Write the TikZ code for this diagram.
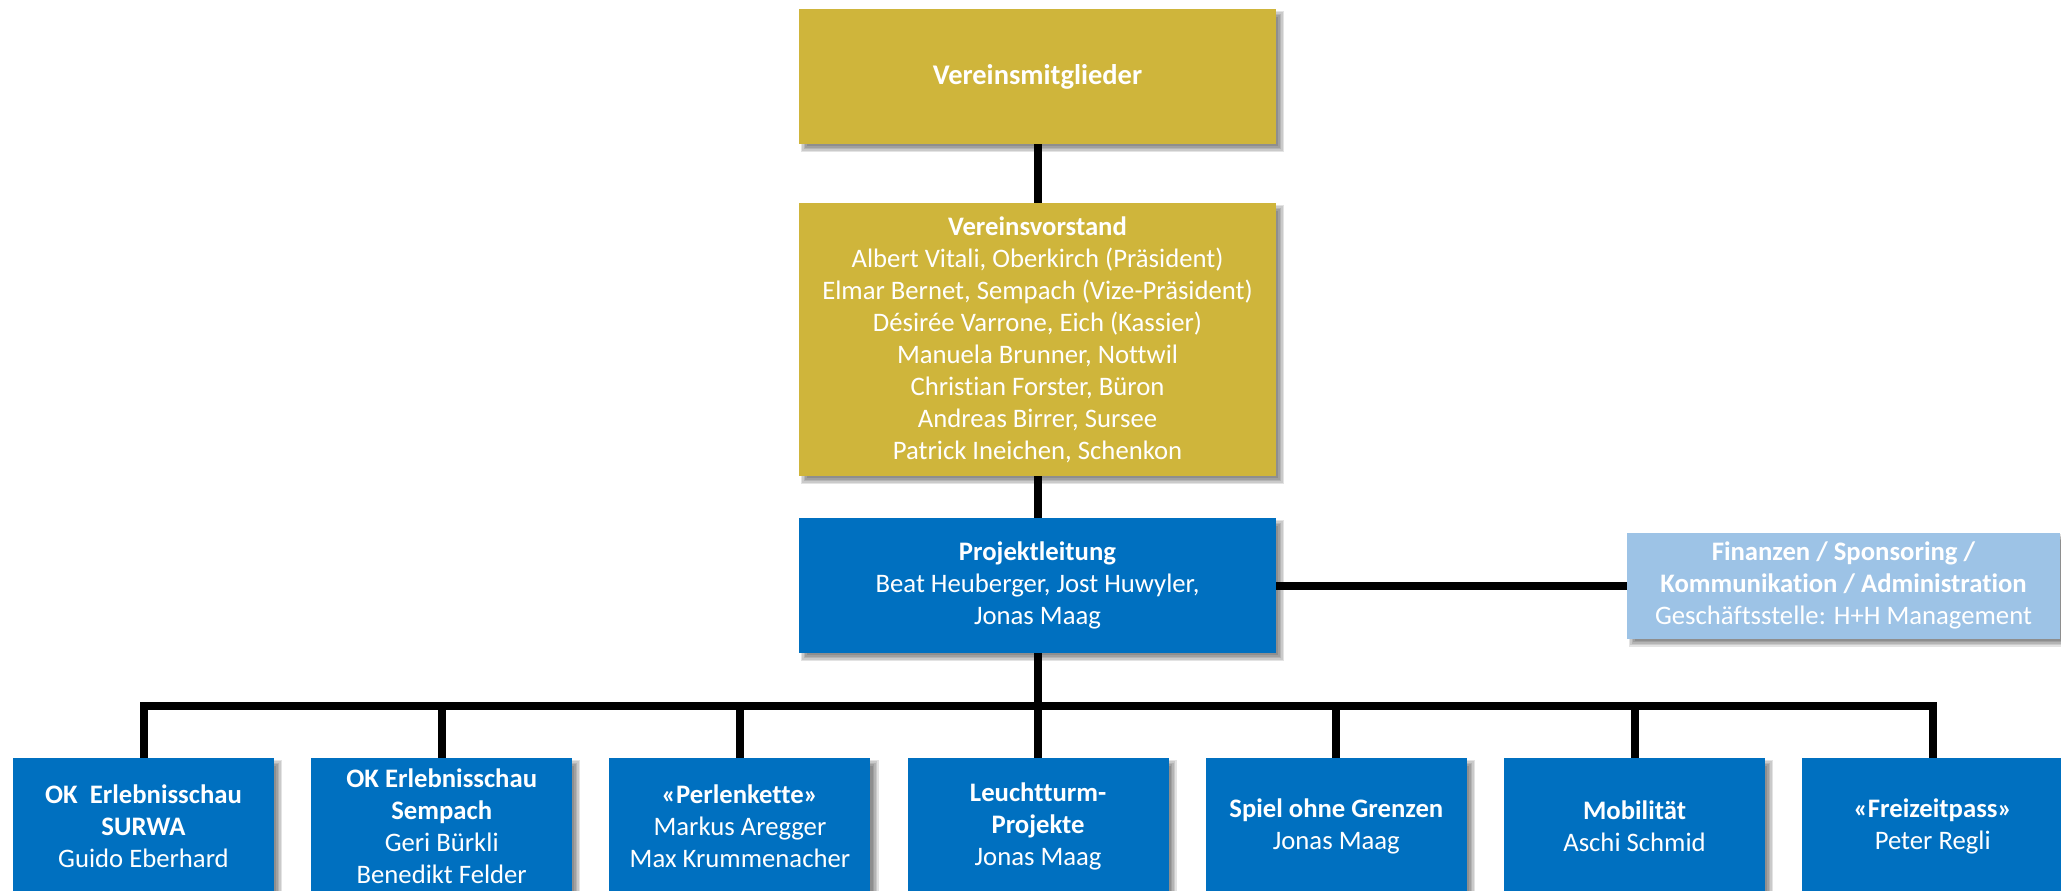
\documentclass[tikz,border=0pt]{standalone}
\usepackage{fontspec}
\setmainfont{Carlito}[Ligatures={NoCommon}]
\usetikzlibrary{calc}
\definecolor{gold}{RGB}{207,181,59}
\definecolor{pblue}{RGB}{0,112,192}
\definecolor{lblue}{RGB}{157,195,230}
\pgfdeclarelayer{bg}
\pgfsetlayers{bg,main}
\newcommand{\boxshadow}[1]{%
  \foreach \d in {-3,-1.5,0,1.5,3} {%
    \fill[black, opacity=0.11] ($(#1.north west)+(5+\d,5+\d)$) rectangle ($(#1.south east)+(5-\d,5-\d)$);
  }}
\begin{document}
\begin{tikzpicture}[x=1pt,y=-1pt,
  box/.style={rectangle, inner sep=0pt, text=white, align=center, font=\fontsize{26.7}{32}\selectfont},
  goldbox/.style={box, fill=gold, minimum width=477pt},
  bluebox/.style={box, fill=pblue, minimum width=261pt, minimum height=136pt},
  conn/.style={line width=8pt, line join=miter, draw=black}]
\useasboundingbox (0,0) rectangle (2061,891);

\node[goldbox, minimum height=135pt, font=\fontsize{28.5}{34}\selectfont\bfseries] (vm) at (1037.5,76.5) {Vereinsmitglieder};
\node[goldbox, minimum height=273pt] (vv) at (1037.5,339.5) {\textbf{Vereinsvorstand}\\Albert Vitali, Oberkirch (Präsident)\\Elmar Bernet, Sempach (Vize-Präsident)\\Désirée Varrone, Eich (Kassier)\\Manuela Brunner, Nottwil\\Christian Forster, Büron\\Andreas Birrer, Sursee\\Patrick Ineichen, Schenkon};
\node[box, fill=pblue, minimum width=477pt, minimum height=135pt] (pl) at (1037.5,585.5) {\textbf{Projektleitung}\\Beat Heuberger, Jost Huwyler,\\Jonas Maag};
\node[box, fill=lblue, minimum width=433pt, minimum height=106pt] (fin) at (1843.5,585.5) {\textbf{Finanzen / Sponsoring /}\\\textbf{Kommunikation / Administration}\\Geschäftsstelle: H+H Management};

\node[bluebox] (c1) at (143.5,826) {\textbf{OK\ \ Erlebnisschau}\\\textbf{SURWA}\\Guido Eberhard};
\node[bluebox] (c2) at (441.7,826) {\textbf{OK Erlebnisschau}\\\textbf{Sempach}\\Geri Bürkli\\Benedikt Felder};
\node[bluebox] (c3) at (739.9,826) {\textbf{«Perlenkette»}\\Markus Aregger\\Max Krummenacher};
\node[bluebox] (c4) at (1038.1,826) {\textbf{Leuchtturm-}\\\textbf{Projekte}\\Jonas Maag};
\node[bluebox] (c5) at (1336.3,826) {\textbf{Spiel ohne Grenzen}\\Jonas Maag};
\node[bluebox] (c6) at (1634.5,826) {\textbf{Mobilität}\\Aschi Schmid};
\node[bluebox] (c7) at (1932.7,826) {\textbf{«Freizeitpass»}\\Peter Regli};

\coordinate (bus) at (1037.5,706);

\begin{pgfonlayer}{bg}
  \boxshadow{vm}
  \boxshadow{vv}
  \boxshadow{pl}
  \boxshadow{fin}
  \foreach \n in {c1,c2,c3,c4,c5,c6,c7} {\boxshadow{\n}}
\end{pgfonlayer}

\draw[conn] (vm.south) -- (vv.north);
\draw[conn] (vv.south) -- (pl.north);
\draw[conn] (pl.east) -- (fin.west);
\draw[conn] (pl.south) -- (bus);
\draw[conn] (c1.north) |- (bus) -| (c7.north);
\foreach \n in {c2,c3,c4,c5,c6} {\draw[conn] (\n.north) -- (\n.north |- bus);}
\end{tikzpicture}
\end{document}
